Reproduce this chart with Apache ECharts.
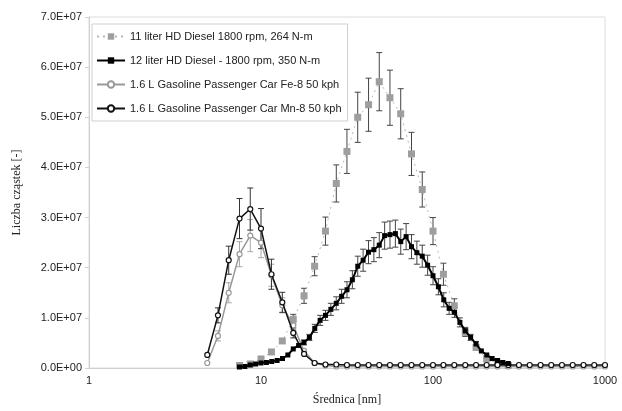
<!DOCTYPE html>
<html>
<head>
<meta charset="utf-8">
<script src="https://cdn.jsdelivr.net/npm/echarts@6/dist/echarts.min.js"></script>
<style>
  html, body { margin: 0; padding: 0; background: #fff; }
  #chart { width: 622px; height: 411px; }
</style>
</head>
<body>
<div id="chart"></div>
<script>
  // 11 liter HD diesel, 1800 rpm, 264 N-m (gray squares, values in 1e7)
  var d11Size = [7.50, 8.66, 10.0, 11.5, 13.3, 15.4, 17.8, 20.5, 23.7, 27.4, 31.6, 36.5, 42.2,
    48.7, 56.2, 64.9, 75.0, 86.6, 100, 115, 133, 154, 178, 205, 237, 274]
  var d11Val = [0.05, 0.08, 0.18, 0.32, 0.54, 0.97, 1.44, 2.03, 2.73, 3.68, 4.32, 5.00, 5.25,
    5.71, 5.39, 5.07, 4.27, 3.56, 2.73, 1.87, 1.24, 0.71, 0.41, 0.18, 0.10, 0.05]
  var d11Err = [0, 0, 0, 0, 0, 0.10, 0.15, 0.19, 0.28, 0.37, 0.44, 0.50, 0.53,
    0.58, 0.55, 0.50, 0.43, 0.35, 0.27, 0.22, 0.14, 0.08, 0.05, 0, 0, 0]

  // 12 liter HD diesel, 1800 rpm, 350 N-m (black squares)
  var d12Size = [7.50, 8.06, 8.66, 9.31, 10.0, 10.75, 11.55, 12.41, 13.34, 14.33, 15.40, 16.55,
    17.78, 19.11, 20.54, 22.07, 23.71, 25.48, 27.38, 29.43, 31.62, 33.98, 36.52, 39.24, 42.17,
    45.32, 48.70, 52.33, 56.23, 60.43, 64.94, 69.78, 74.99, 80.58, 86.60, 93.06, 100, 107.5,
    115.5, 124.1, 133.4, 143.3, 154.0, 165.5, 177.8, 191.1, 205.4, 220.7, 237.1, 254.8, 273.8]
  var d12Val = [0.02, 0.03, 0.06, 0.08, 0.10, 0.11, 0.13, 0.15, 0.19, 0.26, 0.38, 0.45,
    0.51, 0.61, 0.79, 0.95, 1.05, 1.17, 1.29, 1.43, 1.56, 1.76, 2.03, 2.15, 2.31,
    2.36, 2.45, 2.64, 2.66, 2.68, 2.52, 2.62, 2.42, 2.30, 2.23, 2.05, 1.84, 1.62,
    1.36, 1.19, 1.11, 0.91, 0.74, 0.61, 0.48, 0.34, 0.26, 0.19, 0.15, 0.11, 0.09]
  var d12Err = [0, 0, 0, 0, 0, 0, 0, 0, 0, 0, 0, 0,
    0.05, 0.06, 0.08, 0.10, 0.10, 0.12, 0.13, 0.14, 0.16, 0.18, 0.20, 0.22, 0.23,
    0.24, 0.25, 0.27, 0.27, 0.27, 0.25, 0.26, 0.24, 0.23, 0.22, 0.20, 0.18, 0.16,
    0.14, 0.12, 0.10, 0.09, 0.07, 0.06, 0.05, 0, 0, 0, 0, 0, 0]

  // 1.6 L gasoline passenger car, Fe-8 and Mn-8, 50 kph
  var gasSize = [4.87, 5.62, 6.49, 7.50, 8.66, 10.0, 11.5, 13.3, 15.4, 17.8, 20.5, 23.7, 27.4,
    31.6, 36.5, 42.2, 48.7, 56.2, 64.9, 75.0, 86.6, 100, 115, 133, 154, 178, 205, 237, 274,
    316, 365, 422, 487, 562, 649, 750, 866, 1000]
  var feVal = [0.10, 0.64, 1.50, 2.27, 2.64, 2.50, 1.85, 1.25, 0.85, 0.34, 0.10, 0.05, 0.03,
    0.03, 0.03, 0.03, 0.03, 0.03, 0.03, 0.03, 0.03, 0.03, 0.03, 0.03, 0.03, 0.03, 0.03, 0.03, 0.03,
    0.03, 0.03, 0.03, 0.03, 0.03, 0.03, 0.03, 0.03, 0.03]
  var feErr = [0, 0.10, 0.20, 0.25, 0.32, 0.30, 0.22, 0.15, 0.08, 0, 0, 0, 0,
    0, 0, 0, 0, 0, 0, 0, 0, 0, 0, 0, 0, 0, 0, 0, 0,
    0, 0, 0, 0, 0, 0, 0, 0, 0]
  var mnVal = [0.26, 1.05, 2.15, 2.98, 3.17, 2.78, 1.87, 1.31, 0.70, 0.28, 0.10, 0.07, 0.07,
    0.06, 0.06, 0.06, 0.06, 0.06, 0.06, 0.06, 0.06, 0.06, 0.06, 0.06, 0.06, 0.06, 0.06, 0.06, 0.06,
    0.06, 0.06, 0.06, 0.06, 0.06, 0.06, 0.06, 0.06, 0.06]
  var mnErr = [0, 0.15, 0.28, 0.40, 0.42, 0.40, 0.30, 0.20, 0.10, 0, 0, 0, 0,
    0, 0, 0, 0, 0, 0, 0, 0, 0, 0, 0, 0, 0, 0, 0, 0,
    0, 0, 0, 0, 0, 0, 0, 0, 0]

  var names = [
    '11 liter HD Diesel 1800 rpm, 264 N-m',
    '12 liter HD Diesel - 1800 rpm, 350 N-m',
    '1.6 L Gasoline Passenger Car Fe-8 50 kph',
    '1.6 L Gasoline Passenger Car Mn-8 50 kph'
  ]

  var E7 = 1e7

  function points (xs, ys) {
    return xs.map(function (x, i) { return [x, ys[i] * E7] })
  }

  function bars (xs, ys, es) {
    var out = []
    xs.forEach(function (x, i) {
      if (es[i] > 0) out.push([x, (ys[i] - es[i]) * E7, (ys[i] + es[i]) * E7])
    })
    return out
  }

  function errorSeries (data, color, z) {
    return {
      type: 'custom',
      z: z,
      silent: true,
      data: data,
      encode: { x: 0, y: [1, 2] },
      renderItem: function (params, api) {
        var lo = api.coord([api.value(0), api.value(1)])
        var hi = api.coord([api.value(0), api.value(2)])
        var w = 3
        var style = { stroke: color, lineWidth: 1, fill: null }
        return {
          type: 'group',
          children: [
            { type: 'line', shape: { x1: lo[0], y1: lo[1], x2: hi[0], y2: hi[1] }, style: style },
            { type: 'line', shape: { x1: lo[0] - w, y1: lo[1], x2: lo[0] + w, y2: lo[1] }, style: style },
            { type: 'line', shape: { x1: hi[0] - w, y1: hi[1], x2: hi[0] + w, y2: hi[1] }, style: style }
          ]
        }
      }
    }
  }

  function sci (v) {
    if (v === 0) return '0.0E+00'
    return (v / E7).toFixed(1) + 'E+07'
  }

  var chart = echarts.init(document.getElementById('chart'))
  var option = {
    animation: false,
    backgroundColor: '#fff',
    textStyle: { fontFamily: 'Liberation Sans' },
    grid: {
      left: 89, right: 17, top: 17, bottom: 42,
      show: true, borderColor: '#dcdcdc', borderWidth: 1
    },
    legend: {
      data: names,
      orient: 'vertical',
      left: 92,
      top: 24,
      itemWidth: 28,
      itemHeight: 8,
      itemGap: 11,
      padding: [6, 6, 6, 4],
      borderColor: '#cfcfcf',
      borderWidth: 1,
      backgroundColor: '#fff',
      textStyle: { fontSize: 11, color: '#222', fontFamily: 'Liberation Sans', lineHeight: 13 }
    },
    xAxis: {
      type: 'log',
      logBase: 10,
      min: 1,
      max: 1000,
      name: 'Średnica [nm]',
      nameLocation: 'middle',
      nameGap: 26,
      nameTextStyle: { fontFamily: 'Liberation Serif', fontSize: 12, color: '#222' },
      axisLine: { lineStyle: { color: '#d0d0d0' } },
      axisTick: { show: false },
      splitLine: { show: false },
      axisLabel: {
        fontSize: 11, color: '#222', margin: 7,
        formatter: function (v) { return String(Math.round(v)) }
      }
    },
    yAxis: {
      type: 'value',
      min: 0,
      max: 7e7,
      interval: 1e7,
      name: 'Liczba cząstek [-]',
      nameLocation: 'middle',
      nameGap: 66,
      nameTextStyle: { fontFamily: 'Liberation Serif', fontSize: 12, color: '#222' },
      axisLine: { show: true, lineStyle: { color: '#d0d0d0' } },
      axisTick: { show: true, length: 4, lineStyle: { color: '#d0d0d0' } },
      splitLine: { show: false },
      axisLabel: { fontSize: 11, color: '#222', margin: 7, formatter: sci }
    },
    series: [
      errorSeries(bars(gasSize, feVal, feErr), '#a8a8a8', 1),
      errorSeries(bars(gasSize, mnVal, mnErr), '#333', 2),
      errorSeries(bars(d11Size, d11Val, d11Err), '#444', 3),
      errorSeries(bars(d12Size, d12Val, d12Err), '#444', 4),
      {
        name: names[0],
        type: 'line',
        z: 5,
        data: points(d11Size, d11Val),
        symbol: 'rect',
        symbolSize: 7,
        itemStyle: { color: '#9e9e9e' },
        lineStyle: { color: '#b8b8b8', width: 1, type: [2, 4] }
      },
      {
        name: names[2],
        type: 'line',
        z: 6,
        data: points(gasSize, feVal),
        symbol: 'circle',
        symbolSize: 5,
        itemStyle: { color: '#fff', borderColor: '#999', borderWidth: 1.2 },
        lineStyle: { color: '#999', width: 1.5 }
      },
      {
        name: names[3],
        type: 'line',
        z: 7,
        data: points(gasSize, mnVal),
        symbol: 'circle',
        symbolSize: 5,
        itemStyle: { color: '#fff', borderColor: '#111', borderWidth: 1.2 },
        lineStyle: { color: '#111', width: 1.5 }
      },
      {
        name: names[1],
        type: 'line',
        z: 8,
        data: points(d12Size, d12Val),
        symbol: 'rect',
        symbolSize: 5,
        itemStyle: { color: '#000' },
        lineStyle: { color: '#000', width: 2 }
      }
    ]
  }
  chart.setOption(option)
</script>
</body>
</html>
